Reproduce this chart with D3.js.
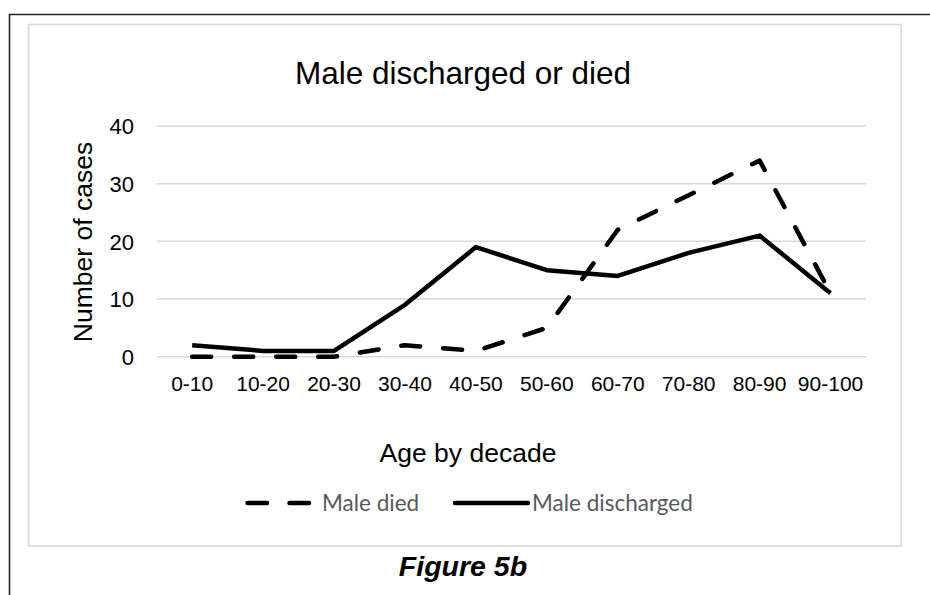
<!DOCTYPE html>
<html>
<head>
<meta charset="utf-8">
<script src="https://cdn.jsdelivr.net/npm/d3@7"></script>
<style>
  html, body { margin: 0; padding: 0; background: #fff; }
  svg { display: block; }
</style>
</head>
<body>
<svg id="chart" width="930" height="595"></svg>
<script>
const categories = ["0-10","10-20","20-30","30-40","40-50","50-60","60-70","70-80","80-90","90-100"];
const maleDied = [0,0,0,2,1,5,22,28,34,11];
const maleDischarged = [2,1,1,9,19,15,14,18,21,11];
const yTicks = [0,10,20,30,40];
const seriesNames = ["Male died","Male discharged"];

const svg = d3.select("#chart");
const W = 930, H = 595;

// outer frame (black)
svg.append("path")
  .attr("d", `M9.5,${H} L9.5,14.5 L${W},14.5`)
  .attr("fill","none").attr("stroke","#222").attr("stroke-width",1.6);

// chart area border (gray)
svg.append("rect")
  .attr("x",28.5).attr("y",24.5).attr("width",872.5).attr("height",521.5)
  .attr("fill","#fff").attr("stroke","#d9d9d9").attr("stroke-width",1.6);

const x = d3.scaleBand().domain(categories).range([156.7, 866]);
const y = d3.scaleLinear().domain([0,40]).range([356.7, 126]);

// gridlines
svg.append("g").selectAll("line").data(yTicks).join("line")
  .attr("x1",156.7).attr("x2",866)
  .attr("y1",d=>y(d)).attr("y2",d=>y(d))
  .attr("stroke","#d9d9d9").attr("stroke-width",1.5);

// y axis labels
const yAxis = d3.axisLeft(y).tickValues(yTicks).tickSize(0).tickPadding(0);
const gy = svg.append("g").attr("transform","translate(134,0)").call(yAxis);
gy.select(".domain").remove();
gy.selectAll("text").attr("font-family","Liberation Sans, Arial, sans-serif")
  .attr("font-size",22).attr("fill","#000").attr("dy","0.36em");

// x axis labels
const xAxis = d3.axisBottom(x).tickSize(0).tickPadding(0);
const gx = svg.append("g").attr("transform","translate(0,378)").call(xAxis);
gx.select(".domain").remove();
gx.selectAll("text").attr("font-family","Liberation Sans, Arial, sans-serif")
  .attr("font-size",21).attr("fill","#000").attr("dy","0.6em");

// title
svg.append("text").attr("x",463).attr("y",84).attr("text-anchor","middle")
  .attr("font-family","Liberation Sans, Arial, sans-serif").attr("font-size",31.5)
  .attr("fill","#000").text("Male discharged or died");

// y title
svg.append("text").attr("transform","translate(92,242) rotate(-90)")
  .attr("text-anchor","middle")
  .attr("font-family","Liberation Sans, Arial, sans-serif").attr("font-size",26.5)
  .attr("fill","#000").text("Number of cases");

// x title
svg.append("text").attr("x",468).attr("y",462).attr("text-anchor","middle")
  .attr("font-family","Liberation Sans, Arial, sans-serif").attr("font-size",26.5)
  .attr("fill","#000").text("Age by decade");

const line = d3.line()
  .x((d,i)=>x(categories[i]) + x.bandwidth()/2)
  .y(d=>y(d));

svg.append("path").datum(maleDischarged).attr("d",line)
  .attr("fill","none").attr("stroke","#000").attr("stroke-width",4.5)
  .attr("stroke-linejoin","round");

svg.append("path").datum(maleDied).attr("d",line)
  .attr("fill","none").attr("stroke","#000").attr("stroke-width",4.5)
  .attr("stroke-linejoin","round").attr("stroke-linecap","round")
  .attr("stroke-dasharray","19,23");

// legend
const ly = 503;
svg.append("line").attr("x1",247.5).attr("x2",309).attr("y1",ly).attr("y2",ly)
  .attr("stroke","#000").attr("stroke-width",4.5).attr("stroke-linecap","round")
  .attr("stroke-dasharray","19.5,22.5");
svg.append("text").attr("x",322).attr("y",ly).attr("dy","0.35em")
  .attr("font-family","Lato, Open Sans, sans-serif").attr("font-size",22.5)
  .attr("fill","#595959").text(seriesNames[0]);
svg.append("line").attr("x1",455).attr("x2",528).attr("y1",ly).attr("y2",ly)
  .attr("stroke","#000").attr("stroke-width",4.5).attr("stroke-linecap","round");
svg.append("text").attr("x",532).attr("y",ly).attr("dy","0.35em")
  .attr("font-family","Lato, Open Sans, sans-serif").attr("font-size",22.5)
  .attr("fill","#595959").text(seriesNames[1]);

// figure caption
svg.append("text").attr("x",463).attr("y",576).attr("text-anchor","middle")
  .attr("font-family","Liberation Sans, Arial, sans-serif").attr("font-size",28.5)
  .attr("font-weight","bold").attr("font-style","italic")
  .attr("fill","#000").text("Figure 5b");
</script>
</body>
</html>
